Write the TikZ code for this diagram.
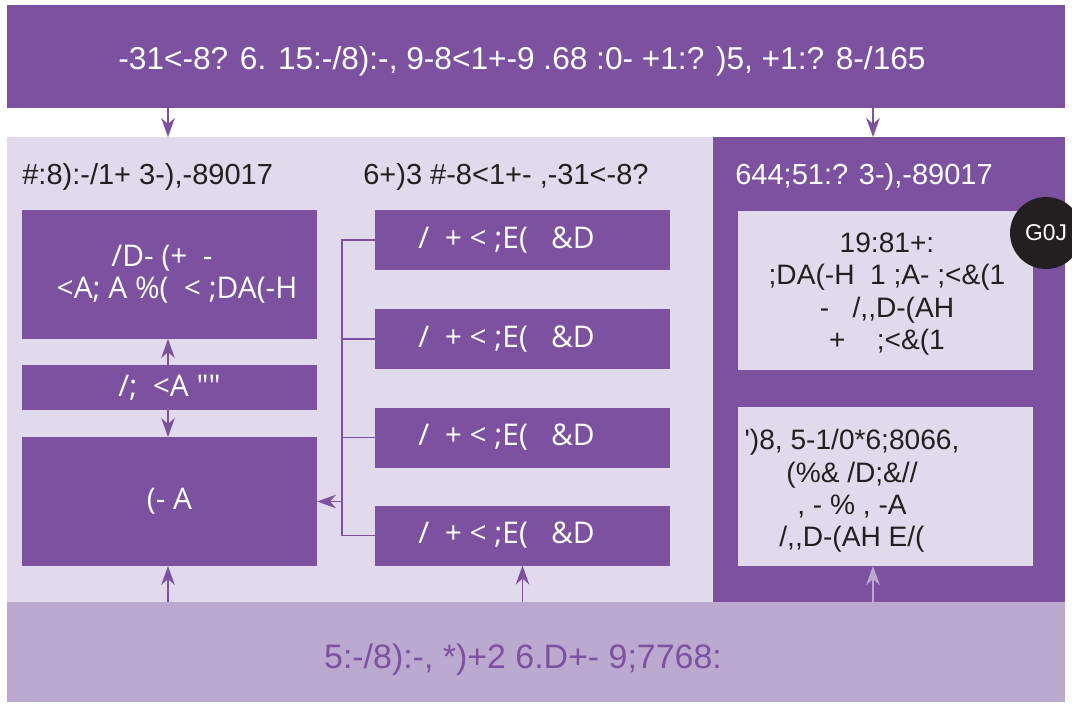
\documentclass[tikz,border=0pt]{standalone}
\usepackage{fontspec}
\usepackage{tikz}
\usetikzlibrary{arrows.meta}
\newfontfamily\arialfont{Liberation Sans}[Ligatures=TeXOff]
\newfontfamily\boxfont{Open Sans}[Ligatures=TeXOff]
\definecolor{darkpurple}{HTML}{7C52A0}
\definecolor{lightlav}{HTML}{E1DAEC}
\definecolor{midlav}{HTML}{BBA9D0}
\definecolor{inkblack}{HTML}{231F20}

\begin{document}
\begin{tikzpicture}[x=0.02cm, y=-0.02cm,
  band/.style = {fill=darkpurple, minimum width=21.16cm, inner sep=0pt, outer sep=0pt, text=white,
    font=\arialfont\fontsize{18}{20}\selectfont},
  pbox/.style = {fill=darkpurple, minimum width=5.9cm, inner sep=0pt, outer sep=0pt, text=white,
    align=center, font=\boxfont\fontsize{17}{18.2}\selectfont},
  lbox/.style = {fill=lightlav, minimum width=5.9cm, minimum height=3.18cm, inner sep=0pt, outer sep=0pt},
  title/.style = {anchor=west, inner sep=0pt, text=inkblack, font=\arialfont\fontsize{16.5}{19}\selectfont},
  body/.style = {align=center, inner sep=0pt, text=inkblack, font=\arialfont\fontsize{16}{18.4}\selectfont},
  arr/.style = {darkpurple, line width=0.9pt, -{Stealth[length=0.38cm, width=0.27cm, inset=0.12cm]}},
  bus/.style = {darkpurple, line width=1.1pt}]

\useasboundingbox (0,0) rectangle (1072,704);
\fill[white] (0,0) rectangle (1072,704);

% panels
\fill[lightlav] (7,137) rectangle (713,602);
\fill[darkpurple] (713,137) rectangle (1065,602);

\node (top) [band, minimum height=2.06cm] at (536,56.5)
  {\raisebox{-7.3pt}[0pt][0pt]{-31<-8? 6. 15:-/8):-, 9-8<1+-9 .68 :0- +1:? )5, +1:? 8-/165}\hspace*{0.56cm}};
\node (bottom) [band, fill=midlav, text=darkpurple, minimum height=2cm,
  font=\arialfont\fontsize{19.3}{21}\selectfont] at (536,652)
  {\raisebox{-9.5pt}[0pt][0pt]{5:-/8):-, *)+2 6.D+- 9;7768:}\hspace*{0.52cm}};

\coordinate (inL) at (168,137);
\coordinate (inR) at (873,137);
\draw[arr] (top.south -| inL) -- (inL);
\draw[arr] (top.south -| inR) -- (inR);

% left column
\node (lefttitle) [title] at (22,177) {\#:8):-/1+ 3-),-89017};
\node (box1) [pbox, minimum height=2.58cm] at (169.5,274.5) {/D- (+~ -\hspace*{0.3cm}\\\hspace*{0.3cm}<A; A \%(~ < ;DA(-H};
\node (box2) [pbox, minimum height=0.9cm] at (169.5,387.5) {/;~ <A ""};
\node (box3) [pbox, minimum height=2.58cm] at (169.5,501.5) {(- A};
\draw[arr] (inL |- box2.north) -- (inL |- box1.south);
\draw[arr] (inL |- box2.south) -- (inL |- box3.north);
\draw[arr] (bottom.north -| inL) -- (inL |- box3.south);

% middle column
\node (midtitle) [title] at (363,177) {6+)3 \#-8<1+- ,-31<-8?};
\foreach \i/\y in {1/240, 2/339, 3/437.5, 4/535.5}
  \node (m\i) [pbox, minimum height=1.2cm] at (522.5,\y) {/~ + < ;E(~~ \&D\hspace*{0.64cm}};
\coordinate (bus) at (342,240);
\draw[bus] (m1.west) -- (m1.west -| bus) -- (m4.west -| bus) -- (m4.west);
\draw[bus] (m2.west -| bus) -- (m2.west);
\draw[bus] (m3.west -| bus) -- (m3.west);
\draw[arr] (box3.east -| bus) -- (box3.east);
\draw[arr] (bottom.north -| m4.south) -- (m4.south);

% right column
\node (righttitle) [title, text=white] at (735,177) {644;51:? 3-),-89017};
\node (boxA) [lbox] at (885.5,290.5) {};
\node (textA) [body] at (887,294) {19:81+:\\;DA(-H~ 1 ;A- ;<\&(1\\-~~ /,,D-(AH\\+~~~ ;<\&(1};
\node (boxB) [lbox] at (885.5,486.5) {};
\node (textB) [body] at (852,491) {')8, 5-1/0*6;8066,\\(\%\& /D;\&//\\, - \% , -A\\/,,D-(AH E/(};
\node (tag) [circle, fill=inkblack, minimum size=1.44cm, inner sep=0pt, text=white,
  font=\arialfont\fontsize{13}{15}\selectfont] at (1046,233) {G0J};
\draw[arr, midlav] (bottom.north -| inR) -- (inR |- boxB.south);
\end{tikzpicture}
\end{document}
